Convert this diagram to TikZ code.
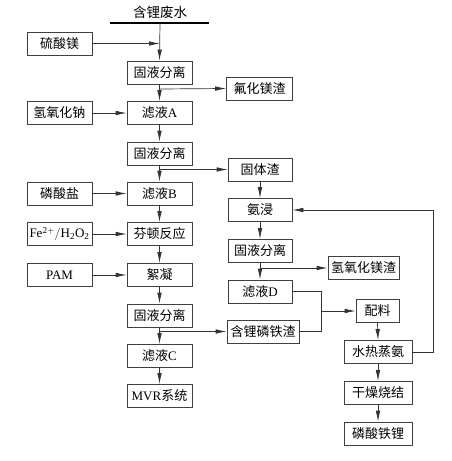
\documentclass[tikz,border=0pt]{standalone}
\usepackage{fontspec}
\setmainfont{Liberation Serif}
\newfontfamily\cjk{Noto Sans CJK SC}
\usetikzlibrary{arrows.meta}
\begin{document}
\begin{tikzpicture}[x=1pt,y=-1pt,
  box/.style={draw=black!75,line width=0.7pt,minimum width=65pt,minimum height=23pt,inner sep=0pt,font=\fontsize{13}{14}\selectfont},
  conn/.style={draw=black!80,line width=0.7pt},
  arr/.style={conn,-{Latex[length=11pt,width=4.5pt]}}]
\useasboundingbox (0,0) rectangle (452,461);
% title
\node[font=\fontsize{13.5}{14}\selectfont\cjk] (title) at (160,12) {含锂废水};
\coordinate (tl) at (110,23);
\coordinate (tr) at (209,23);
\coordinate (top) at (160,23);
\draw[line width=2.6pt] (tl) -- (tr);
% left column
\node[box] (ms) at (59.5,43.5) {\cjk 硫酸镁};
\node[box] (na) at (59.5,113) {\cjk 氢氧化钠};
\node[box] (lin) at (59.5,193.5) {\cjk 磷酸盐};
\node[box] (fe) at (59.5,234) {$\mathrm{Fe^{2+}/H_2O_2}$};
\node[box] (pam) at (59.5,275) {PAM};
% main column
\node[box] (s1) at (159.5,72.5) {\cjk 固液分离};
\node[box] (lA) at (159.5,113) {{\cjk 滤液}A};
\node[box] (s2) at (159.5,153.5) {\cjk 固液分离};
\node[box] (lB) at (159.5,193.5) {{\cjk 滤液}B};
\node[box] (fd) at (159.5,234) {\cjk 芬顿反应};
\node[box] (xn) at (159.5,275) {\cjk 絮凝};
\node[box] (s3) at (159.5,315.5) {\cjk 固液分离};
\node[box] (lC) at (159.5,356) {{\cjk 滤液}C};
\node[box] (mvr) at (159.5,396) {MVR{\cjk 系统}};
% right column
\node[box,minimum width=66pt] (fm) at (259.5,88.5) {\cjk 氟化镁渣};
\node[box,minimum width=64pt] (gt) at (260,169.5) {\cjk 固体渣};
\node[box,minimum width=64pt] (aj) at (260,210) {\cjk 氨浸};
\node[box,minimum width=64pt] (s4) at (260,251) {\cjk 固液分离};
\node[box,minimum width=71pt] (mg) at (363.5,268) {\cjk 氢氧化镁渣};
\node[box,minimum width=64pt] (lD) at (260,291.5) {{\cjk 滤液}D};
\node[box,minimum width=72pt] (lt) at (263,331.5) {\cjk 含锂磷铁渣};
\node[box,minimum width=43pt] (pl) at (377.5,311) {\cjk 配料};
\node[box,minimum width=68pt] (sr) at (378,352) {\cjk 水热蒸氨};
\node[box,minimum width=68pt] (gz) at (378,393) {\cjk 干燥烧结};
\node[box,minimum width=68pt] (lfp) at (378,433.5) {\cjk 磷酸铁锂};
% junction coordinates
\coordinate (j0) at (160,43.5);
\coordinate (j1) at (160,89);
\coordinate (j2) at (160,169.5);
\coordinate (j3) at (160,331.5);
\coordinate (j4) at (260,268);
\coordinate (d1) at (321,291.5);
\coordinate (d2) at (321,331.5);
\coordinate (d3) at (321,311);
\coordinate (r1) at (433,352);
\coordinate (r2) at (433,210);
% connectors main
\draw[arr] (top) -- (s1.north);
\draw[arr] (ms.east) -- (j0);
\draw[arr] (s1.south) -- (lA.north);
\draw[arr] (j1) -- (fm.west);
\draw[arr] (na.east) -- (lA.west);
\draw[arr] (lA.south) -- (s2.north);
\draw[arr] (s2.south) -- (lB.north);
\draw[arr] (j2) -- (gt.west);
\draw[arr] (lin.east) -- (lB.west);
\draw[arr] (lB.south) -- (fd.north);
\draw[arr] (fe.east) -- (fd.west);
\draw[arr] (fd.south) -- (xn.north);
\draw[arr] (pam.east) -- (xn.west);
\draw[arr] (xn.south) -- (s3.north);
\draw[arr] (s3.south) -- (lC.north);
\draw[arr] (j3) -- (lt.west);
\draw[arr] (lC.south) -- (mvr.north);
% right
\draw[arr] (gt.south) -- (aj.north);
\draw[arr] (aj.south) -- (s4.north);
\draw[arr] (s4.south) -- (lD.north);
\draw[arr] (j4) -- (mg.west);
\draw[conn] (lD.east) -- (d1) -- (d2) -- (lt.east);
\draw[arr] (d3) -- (pl.west);
\draw[arr] (pl.south) -- (sr.north);
\draw[arr] (sr.east) -- (r1) -- (r2) -- (aj.east);
\draw[arr] (sr.south) -- (gz.north);
\draw[arr] (gz.south) -- (lfp.north);
\end{tikzpicture}
\end{document}
